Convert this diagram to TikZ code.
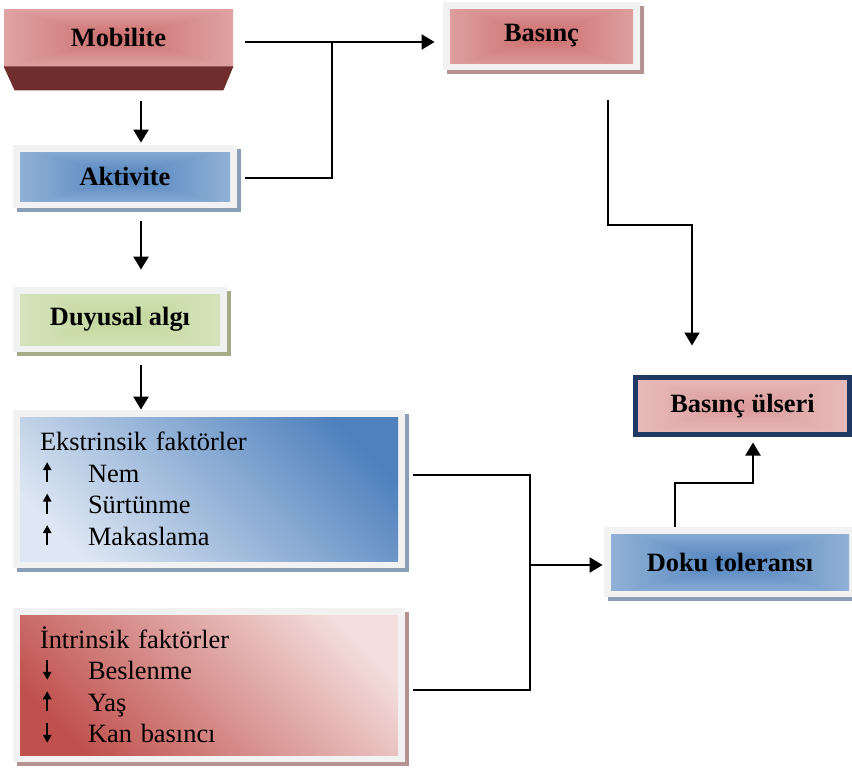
\documentclass[tikz,border=0pt]{standalone}
\usepackage{fontspec}
\setmainfont{Liberation Serif}
\usetikzlibrary{arrows.meta, positioning, calc, shadows}

\definecolor{framegray}{RGB}{242,242,242}
\definecolor{shblue}{RGB}{140,157,184}
\definecolor{sholive}{RGB}{165,170,135}
\definecolor{shrose}{RGB}{181,145,145}
\definecolor{mobdark}{RGB}{112,45,45}
\definecolor{ulcnavy}{RGB}{31,56,100}
\definecolor{extdark}{RGB}{79,129,189}
\definecolor{extlight}{RGB}{222,231,243}
\definecolor{intdark}{RGB}{192,80,77}
\definecolor{intlight}{RGB}{243,222,221}

% rectangular "from centre" gradient: centre colour #2-#4, edge colour #5-#7
\newcommand{\declarerectshade}[7]{%
  \pgfdeclarefunctionalshading{#1}{\pgfpointorigin}{\pgfpoint{100bp}{100bp}}{}{%
    50 sub abs 50 div exch 50 sub abs 50 div
    2 copy lt {exch} if pop
    dup #5 #2 sub mul #2 add exch
    dup #6 #3 sub mul #3 add exch
    #7 #4 sub mul #4 add
  }}
\declarerectshade{pinkrect}{0.80}{0.42}{0.42}{0.95}{0.86}{0.86}
\declarerectshade{bluerect}{0.31}{0.51}{0.74}{0.86}{0.90}{0.95}
\declarerectshade{greenrect}{0.76}{0.84}{0.61}{0.92}{0.95}{0.87}
\declarerectshade{ulcrect}{0.86}{0.60}{0.60}{0.95}{0.87}{0.87}

% small up / down arrows of the factor lists
\newcommand{\upmark}{\tikz[baseline=0pt, x=1pt, y=1pt]\draw[line width=0.8pt, -{Triangle[length=4pt,width=4.2pt]}] (0,0) -- (0,10);}
\newcommand{\downmark}{\tikz[baseline=0pt, x=1pt, y=1pt]\draw[line width=0.8pt, -{Triangle[length=4pt,width=4.2pt]}] (0,10) -- (0,0);}
\newcommand{\fitem}[2]{\makebox[24pt][l]{\hspace{1.5pt}#1}#2}

\tikzset{
  lbl/.style={font=\fontsize{13.2}{16}\selectfont\bfseries, inner sep=0pt},
  framebox/.style={fill=framegray, inner sep=0pt,
    drop shadow={shadow xshift=1.8pt, shadow yshift=-2pt, fill=#1, opacity=1}},
  fillshade/.style={path picture={\shade[shading=#1]
    ([xshift=3.5pt,yshift=-3.5pt]path picture bounding box.north west) rectangle
    ([xshift=-3.5pt,yshift=3.5pt]path picture bounding box.south east);}},
  listbox/.style={font=\fontsize{13.2}{15.75}\selectfont, align=left, text width=169pt,
    minimum width=196pt},
  arr/.style={line width=1.1pt, -{Triangle[length=6.5pt,width=7.5pt]}},
  conn/.style={line width=1pt},
}

\begin{document}
\begin{tikzpicture}[x=0.5pt, y=-0.5pt]
\useasboundingbox (0,0) rectangle (852,767);

% left column
\node[lbl, shade, shading=pinkrect, minimum width=114.5pt, minimum height=28.5pt] (mob) at (118.5,37.5) {Mobilite};
\fill[mobdark] (mob.south west) -- (mob.south east) -- ++(-5pt,-12pt)
  -- ($(mob.south west)+(5.5pt,-12pt)$) -- cycle;
\node[framebox=shblue, fillshade=bluerect, lbl, minimum width=112pt, minimum height=31.5pt] (akt) at (125,176.5) {Aktivite};
\node[framebox=sholive, fillshade=greenrect, lbl, minimum width=107pt, minimum height=32.5pt] (duy) at (120,319.5) {Duyusal algı};
\node[framebox=shblue, listbox, minimum height=79pt,
  path picture={\shade[top color=extdark, bottom color=extlight, shading angle=-45]
    ([xshift=3.5pt,yshift=-3.5pt]path picture bounding box.north west) rectangle
    ([xshift=-3.5pt,yshift=3.5pt]path picture bounding box.south east);}] (ext) at (209,489)
  {Ekstrinsik faktörler\\ \fitem{\upmark}{Nem}\\ \fitem{\upmark}{Sürtünme}\\ \fitem{\upmark}{Makaslama}};
\node[framebox=shrose, listbox, minimum height=77pt,
  path picture={\shade[top color=intlight, bottom color=intdark, shading angle=-45]
    ([xshift=3.5pt,yshift=-3.5pt]path picture bounding box.north west) rectangle
    ([xshift=-3.5pt,yshift=3.5pt]path picture bounding box.south east);}] (int) at (209,685)
  {İntrinsik faktörler\\ \fitem{\downmark}{Beslenme}\\ \fitem{\upmark}{Yaş}\\ \fitem{\downmark}{Kan basıncı}};

% right column
\node[framebox=shrose, fillshade=pinkrect, lbl, minimum width=98.5pt, minimum height=34pt] (bas) at (541.5,36) {Basınç};
\node[lbl, shade, shading=ulcrect, draw=ulcnavy, line width=2.5pt, minimum width=107pt, minimum height=28.5pt] (ulc) at (742.5,406) {Basınç ülseri};
\node[framebox=shblue, fillshade=bluerect, lbl, minimum width=126pt, minimum height=35pt] (dok) at (730,562) {Doku toleransı};

% connectors
\coordinate (colx) at (141,0);
\draw[arr, shorten <=17.5pt, shorten >=1pt] (mob.south -| colx) -- (akt.north -| colx);
\draw[arr, shorten <=6.5pt, shorten >=8.5pt] (akt.south -| colx) -- (duy.north -| colx);
\draw[arr, shorten <=6.5pt] (duy.south -| colx) -- (ext.north -| colx);

\coordinate (jtop) at (332,42);
\draw[arr, line width=1pt, shorten <=6pt, shorten >=4pt] (mob.east |- jtop) -- (jtop) -- (bas.west |- jtop);
\draw[conn, shorten <=4pt] (akt.east |- 0,178) -| (jtop);

\coordinate (bdown) at (608,225);
\coordinate (bright) at (692,225);
\draw[arr, shorten <=15pt, shorten >=14.75pt] (bas.south -| bdown) -- (bdown) -- (bright) -- (ulc.north -| bright);

\coordinate (jext) at (530,475);
\coordinate (jint) at (530,690);
\coordinate (jmid) at (530,565);
\draw[conn, shorten <=4pt, shorten >=4pt] (ext.east |- jext) -- (jext) -- (jint) -- (int.east |- jint);
\draw[arr, line width=1pt, shorten >=0.5pt] (jmid) -- (dok.west |- jmid);

\coordinate (dup) at (675,483);
\coordinate (dright) at (753,483);
\draw[arr, shorten >=2.75pt] (dok.north -| dup) -- (dup) -- (dright) -- (ulc.south -| dright);
\end{tikzpicture}
\end{document}
